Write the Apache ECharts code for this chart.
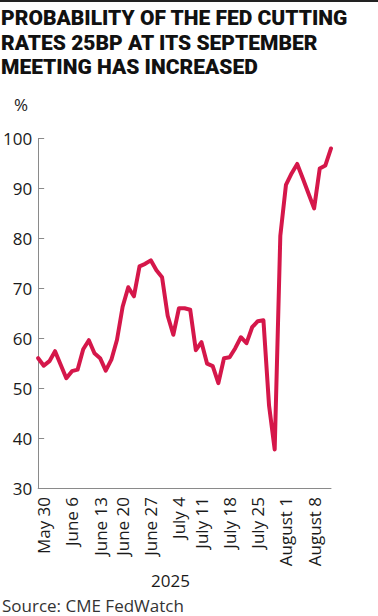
<!DOCTYPE html>
<html>
<head>
<meta charset="utf-8">
<script src="https://cdn.jsdelivr.net/npm/echarts@6/dist/echarts.min.js"></script>
<style>
  html, body { margin: 0; padding: 0; background: #fff; }
  #chart { width: 378px; height: 616px; }
</style>
</head>
<body>
<div id="chart"></div>
<script>
// trading days covered by the line
const dates = [
  "2025-05-29", "2025-05-30",
  "2025-06-02", "2025-06-03", "2025-06-04", "2025-06-05", "2025-06-06",
  "2025-06-09", "2025-06-10", "2025-06-11", "2025-06-12", "2025-06-13",
  "2025-06-16", "2025-06-17", "2025-06-18", "2025-06-20",
  "2025-06-23", "2025-06-24", "2025-06-25", "2025-06-26", "2025-06-27",
  "2025-06-30", "2025-07-01", "2025-07-02", "2025-07-03",
  "2025-07-07", "2025-07-08", "2025-07-09", "2025-07-10", "2025-07-11",
  "2025-07-14", "2025-07-15", "2025-07-16", "2025-07-17", "2025-07-18",
  "2025-07-21", "2025-07-22", "2025-07-23", "2025-07-24", "2025-07-25",
  "2025-07-28", "2025-07-29", "2025-07-30", "2025-07-31", "2025-08-01",
  "2025-08-04", "2025-08-05", "2025-08-06", "2025-08-07", "2025-08-08",
  "2025-08-11", "2025-08-12", "2025-08-13"
]

// probability (%) of a 25bp cut at the September meeting
const probability = [
  56.0, 54.5,
  55.4, 57.4, 54.7, 52.0, 53.4,
  53.7, 57.8, 59.6, 57.0, 56.0,
  53.5, 55.7, 59.7, 66.3,
  70.2, 68.4, 74.4, 74.9, 75.6,
  73.6, 72.2, 64.5, 60.7,
  66.0, 66.0, 65.7, 57.6, 59.2,
  54.9, 54.4, 51.0, 56.0, 56.2,
  58.0, 60.2, 59.0, 62.2, 63.4,
  63.6, 46.5, 37.7, 80.5, 90.7,
  93.0, 94.9, 92.0, 89.0, 86.0,
  94.0, 94.6, 98.0
]

// x axis tick labels (placed on the first trading day on or after the date)
const tickDates = [
  "2025-05-30", "2025-06-06", "2025-06-13", "2025-06-20", "2025-06-27",
  "2025-07-04", "2025-07-11", "2025-07-18", "2025-07-25", "2025-08-01", "2025-08-08"
]
const tickLabels = [
  "May 30", "June 6", "June 13", "June 20", "June 27",
  "July 4", "July 11", "July 18", "July 25", "August 1", "August 8"
]

const yTicks = [30, 40, 50, 60, 70, 80, 90, 100]

const labelAt = {}
tickDates.forEach((d, k) => {
  const i = dates.findIndex(x => x >= d)
  if (i >= 0) labelAt[i] = tickLabels[k]
})

const font = "'Open Sans', sans-serif"
const chart = echarts.init(document.getElementById("chart"), null, { renderer: "svg" })

const option = {
  animation: false,
  title: {
    text: "PROBABILITY OF THE FED CUTTING\nRATES 25BP AT ITS SEPTEMBER\nMEETING HAS INCREASED",
    left: 1,
    top: 6,
    padding: 0,
    textStyle: {
      fontFamily: "Roboto, sans-serif",
      fontWeight: 900,
      fontSize: 21,
      lineHeight: 24.5,
      color: "#111",
    },
  },
  grid: {
    left: 36,
    right: 47,
    top: 138.5,
    bottom: 128,
    containLabel: false,
  },
  xAxis: {
    type: "category",
    boundaryGap: false,
    data: dates,
    axisLine: { lineStyle: { color: "#8a8a8a", width: 1 } },
    axisTick: { show: false },
    axisLabel: {
      rotate: 90,
      margin: 9,
      fontFamily: font,
      fontSize: 17,
      color: "#1a1a1a",
      interval: (i) => labelAt[i] !== undefined,
      formatter: (v, i) => labelAt[i] || "",
    },
    splitLine: { show: false },
  },
  yAxis: {
    type: "value",
    min: yTicks[0],
    max: yTicks[yTicks.length - 1],
    interval: 10,
    name: "%",
    nameLocation: "end",
    nameGap: 26,
    nameTextStyle: {
      fontFamily: font,
      fontSize: 17,
      color: "#1a1a1a",
      align: "right",
      padding: [0, 10, 0, 0],
    },
    axisLine: { show: true, lineStyle: { color: "#8a8a8a", width: 1 } },
    axisTick: { show: true, inside: true, length: 6, lineStyle: { color: "#8a8a8a" } },
    axisLabel: {
      margin: 6,
      fontFamily: font,
      fontSize: 17,
      color: "#1a1a1a",
    },
    splitLine: { show: false },
  },
  graphic: [
    {
      type: "rect",
      left: 0,
      top: 0,
      shape: { width: 378, height: 2 },
      style: { fill: "#222" },
    },
    {
      type: "text",
      left: 151,
      top: 572,
      style: { text: "2025", font: "17px " + font, fill: "#1a1a1a" },
    },
    {
      type: "text",
      left: 2,
      top: 597,
      style: { text: "Source: CME FedWatch", font: "17px " + font, fill: "#333", lineHeight: 17 },
    },
  ],
  series: [
    {
      name: "Probability",
      type: "line",
      data: probability,
      symbol: "none",
      smooth: false,
      lineStyle: { color: "#d5174a", width: 4, join: "round", cap: "round" },
    },
  ],
}

chart.setOption(option)
</script>
</body>
</html>
